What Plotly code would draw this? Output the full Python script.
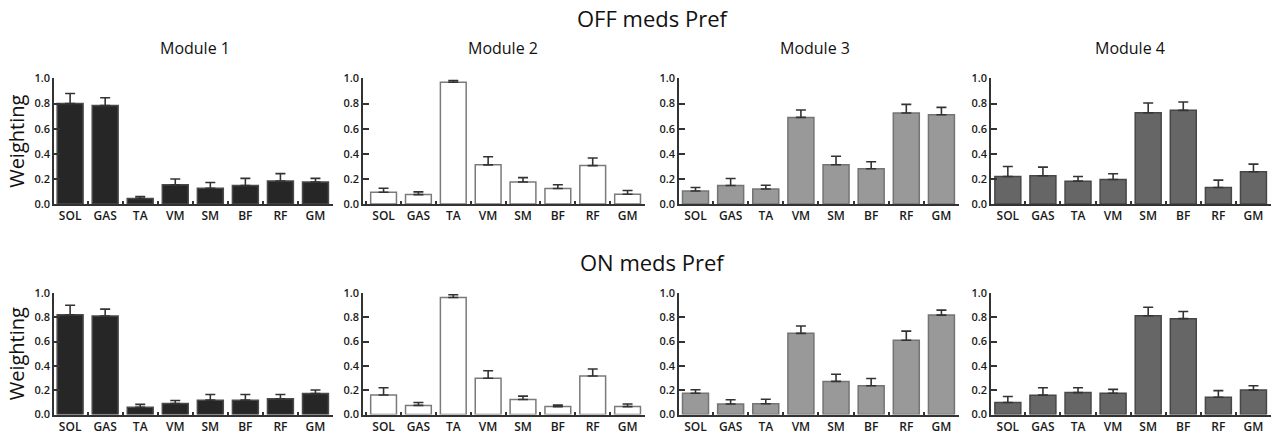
import plotly.graph_objects as go

muscles = ["SOL", "GAS", "TA", "VM", "SM", "BF", "RF", "GM"]
modules = ["Module 1", "Module 2", "Module 3", "Module 4"]
row_titles = ["OFF meds Pref", "ON meds Pref"]
y_ticks = [0.0, 0.2, 0.4, 0.6, 0.8, 1.0]

# OFF meds (top row): means and upper SEM
off_m1 = [0.80, 0.785, 0.043, 0.153, 0.126, 0.148, 0.183, 0.175]
off_m1_err = [0.08, 0.062, 0.016, 0.046, 0.046, 0.056, 0.059, 0.029]
off_m2 = [0.094, 0.075, 0.970, 0.312, 0.175, 0.124, 0.306, 0.078]
off_m2_err = [0.032, 0.022, 0.014, 0.064, 0.035, 0.029, 0.060, 0.030]
off_m3 = [0.104, 0.147, 0.120, 0.690, 0.313, 0.281, 0.725, 0.711]
off_m3_err = [0.027, 0.056, 0.030, 0.059, 0.067, 0.056, 0.069, 0.059]
off_m4 = [0.219, 0.225, 0.182, 0.195, 0.727, 0.746, 0.131, 0.257]
off_m4_err = [0.080, 0.069, 0.037, 0.046, 0.078, 0.067, 0.059, 0.061]

# ON meds (bottom row)
on_m1 = [0.820, 0.810, 0.059, 0.091, 0.118, 0.118, 0.129, 0.172]
on_m1_err = [0.078, 0.056, 0.024, 0.024, 0.046, 0.046, 0.035, 0.029]
on_m2 = [0.161, 0.075, 0.962, 0.298, 0.124, 0.065, 0.317, 0.065]
on_m2_err = [0.059, 0.024, 0.022, 0.062, 0.027, 0.013, 0.057, 0.021]
on_m3 = [0.175, 0.086, 0.089, 0.667, 0.272, 0.237, 0.610, 0.817]
on_m3_err = [0.029, 0.035, 0.037, 0.061, 0.059, 0.059, 0.075, 0.041]
on_m4 = [0.099, 0.159, 0.180, 0.175, 0.812, 0.788, 0.142, 0.202]
on_m4_err = [0.049, 0.061, 0.040, 0.032, 0.070, 0.059, 0.054, 0.035]

data = [
    [(off_m1, off_m1_err), (off_m2, off_m2_err), (off_m3, off_m3_err), (off_m4, off_m4_err)],
    [(on_m1, on_m1_err), (on_m2, on_m2_err), (on_m3, on_m3_err), (on_m4, on_m4_err)],
]

fills = ["#262626", "#ffffff", "#999999", "#666666"]
outlines = ["#4a4a4a", "#7a7a7a", "#747474", "#474747"]

W, H = 1272, 436

# figure-pixel geometry
x_px = [(54, 333), (363, 645), (679, 959), (991, 1271)]
x_lo = [-0.46, -0.59, -0.47, -0.48]
x_hi = [7.5, 7.5, 7.5, 7.5]
y_px = [(73, 203), (295, 421)]
module_x = [195, 503, 815, 1130]
title_x = 652
title_y = [10, 263]
module_y = 41

FONT = "Open Sans"
fig = go.Figure()
layout = dict(
    width=W, height=H, margin=dict(l=0, r=0, t=0, b=0),
    paper_bgcolor="white", plot_bgcolor="white", showlegend=False,
    bargap=0.26, font=dict(family=FONT, color="#1a1a1a"),
)
annotations = []
idx = 0
for r in range(2):
    y0p, y1p = y_px[r]
    ydom = [(H - y1p) / H, (H - y0p) / H]
    for c in range(4):
        idx += 1
        xs = "" if idx == 1 else str(idx)
        vals, errs = data[r][c]
        fig.add_trace(go.Bar(
            x=muscles, y=vals,
            xaxis="x" + xs, yaxis="y" + xs,
            marker=dict(color=fills[c], line=dict(color=outlines[c], width=1.5)),
            error_y=dict(type="data", array=errs, arrayminus=[0] * len(errs),
                         symmetric=False, color="#333333", thickness=1.6, width=5),
        ))
        xa0, xa1 = x_px[c]
        layout["xaxis" + xs] = dict(
            domain=[xa0 / W, xa1 / W], anchor="y" + xs, type="category",
            range=[x_lo[c], x_hi[c]],
            ticks="inside", tickson="boundaries", ticklen=3, tickwidth=1.5,
            tickcolor="#333333",
            showline=True, linecolor="#333333", linewidth=1.5,
            showgrid=False, zeroline=False, fixedrange=True,
            tickfont=dict(size=12, family=FONT, color="#1a1a1a", weight=600),
        )
        layout["yaxis" + xs] = dict(
            domain=ydom, anchor="x" + xs, range=[0, 1.0],
            tickmode="array", tickvals=y_ticks,
            ticktext=["%.1f" % v for v in y_ticks],
            ticks="inside", ticklen=6, tickwidth=1.5, tickcolor="#333333",
            showline=True, linecolor="#333333", linewidth=1.5,
            showgrid=False, zeroline=False, fixedrange=True,
            tickfont=dict(size=11, family=FONT, color="#1a1a1a", weight=600),
            title=dict(text="Weighting" if c == 0 else "",
                       font=dict(size=20, family=FONT, color="#111111"),
                       standoff=4),
        )
        if r == 0:
            annotations.append(dict(
                text=modules[c], xref="paper", yref="paper",
                x=module_x[c] / W, y=(H - module_y) / H,
                showarrow=False, xanchor="center", yanchor="middle",
                font=dict(size=16, family=FONT, color="#111111"),
            ))
    annotations.append(dict(
        text=row_titles[r], xref="paper", yref="paper",
        x=title_x / W, y=(H - title_y[r]) / H,
        showarrow=False, xanchor="center", yanchor="middle",
        font=dict(size=22, family=FONT, color="#111111"),
    ))

layout["annotations"] = annotations
fig.update_layout(**layout)
fig.write_html(
    "out.html",
    config={"displayModeBar": False},
    post_script="document.body.style.margin='0';document.body.style.overflow='hidden';",
)
